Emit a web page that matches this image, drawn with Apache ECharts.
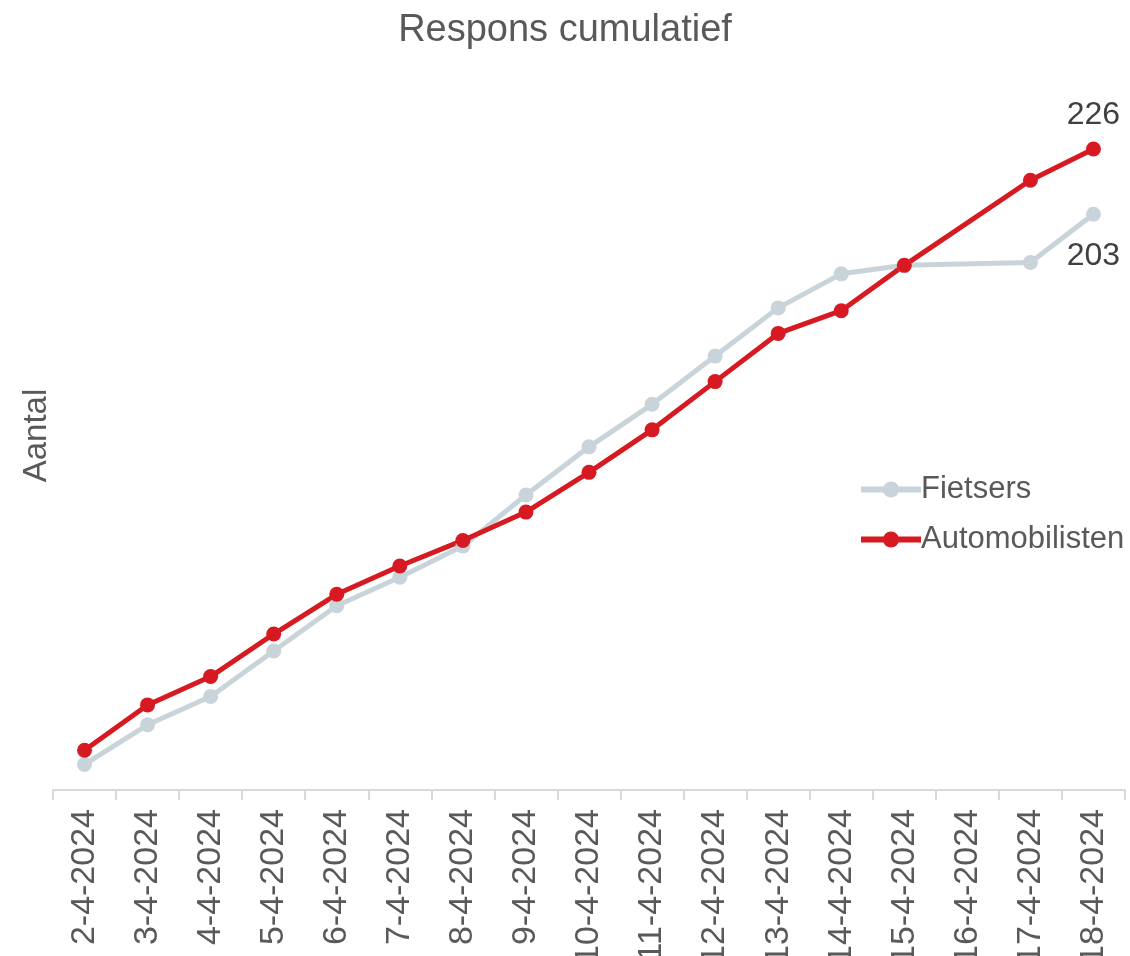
<!DOCTYPE html>
<html>
<head>
<meta charset="utf-8">
<script src="https://cdn.jsdelivr.net/npm/echarts@6/dist/echarts.min.js"></script>
<style>
html,body{margin:0;padding:0;background:#fff;}
#chart{width:1130px;height:956px;}
</style>
</head>
<body>
<div id="chart"></div>
<script>
const categories = ['2-4-2024','3-4-2024','4-4-2024','5-4-2024','6-4-2024','7-4-2024','8-4-2024','9-4-2024','10-4-2024','11-4-2024','12-4-2024','13-4-2024','14-4-2024','15-4-2024','16-4-2024','17-4-2024','18-4-2024'];
const fietsers = [9, 23, 33, 49, 65, 75, 86, 104, 121, 136, 153, 170, 182, 185, null, 186, 203];
const automobilisten = [14, 30, 40, 55, 69, 79, 88, 98, 112, 127, 144, 161, 169, 185, null, 215, 226];

const FONT = '"Liberation Sans", Arial, sans-serif';
const TXT = '#595959';

function withEndLabel(arr, pos, dist) {
  return arr.map((v, i) => i === arr.length - 1
    ? { value: v, label: { show: true, position: pos, distance: dist, fontSize: 32, color: '#404040', fontFamily: FONT } }
    : v);
}

const chart = echarts.init(document.getElementById('chart'));
chart.setOption({
  animation: false,
  title: {
    text: 'Respons cumulatief', left: 'center', top: 7,
    textStyle: { fontSize: 38, fontWeight: 'normal', color: TXT, fontFamily: FONT }
  },
  legend: {
    orient: 'vertical', left: 853, top: 469,
    itemWidth: 60, itemHeight: 20, itemGap: 19,
    lineStyle: { width: 6 },
    textStyle: { fontSize: 31, color: TXT, fontFamily: FONT, padding: [0,0,0,-5] },
    data: ['Fietsers', 'Automobilisten']
  },
  grid: { left: 53, right: 5, top: 81, bottom: 166, outerBoundsMode: 'none', containLabel: false },
  xAxis: {
    type: 'category', data: categories, boundaryGap: true,
    axisLine: { lineStyle: { color: '#d9d9d9', width: 2 } },
    axisTick: { show: true, length: 10, lineStyle: { color: '#d9d9d9', width: 2 } },
    axisLabel: { rotate: 90, fontSize: 34, color: TXT, fontFamily: FONT, margin: 19, interval: 0 }
  },
  yAxis: {
    type: 'value', min: 0, max: 250,
    name: 'Aantal', nameLocation: 'middle', nameRotate: 90, nameGap: 0,
    nameTextStyle: { fontSize: 33, color: TXT, fontFamily: FONT },
    axisLine: { show: false }, axisTick: { show: false },
    axisLabel: { show: false }, splitLine: { show: false }
  },
  series: [
    {
      name: 'Fietsers', type: 'line', data: withEndLabel(fietsers, 'bottom', 18),
      connectNulls: true, symbol: 'circle', symbolSize: 15,
      lineStyle: { color: '#c8d4da', width: 5 }, itemStyle: { color: '#c8d4da' }
    },
    {
      name: 'Automobilisten', type: 'line', data: withEndLabel(automobilisten, 'top', 10),
      connectNulls: true, symbol: 'circle', symbolSize: 15,
      lineStyle: { color: '#d71a21', width: 5 }, itemStyle: { color: '#d71a21' }
    }
  ]
});
</script>
</body>
</html>
